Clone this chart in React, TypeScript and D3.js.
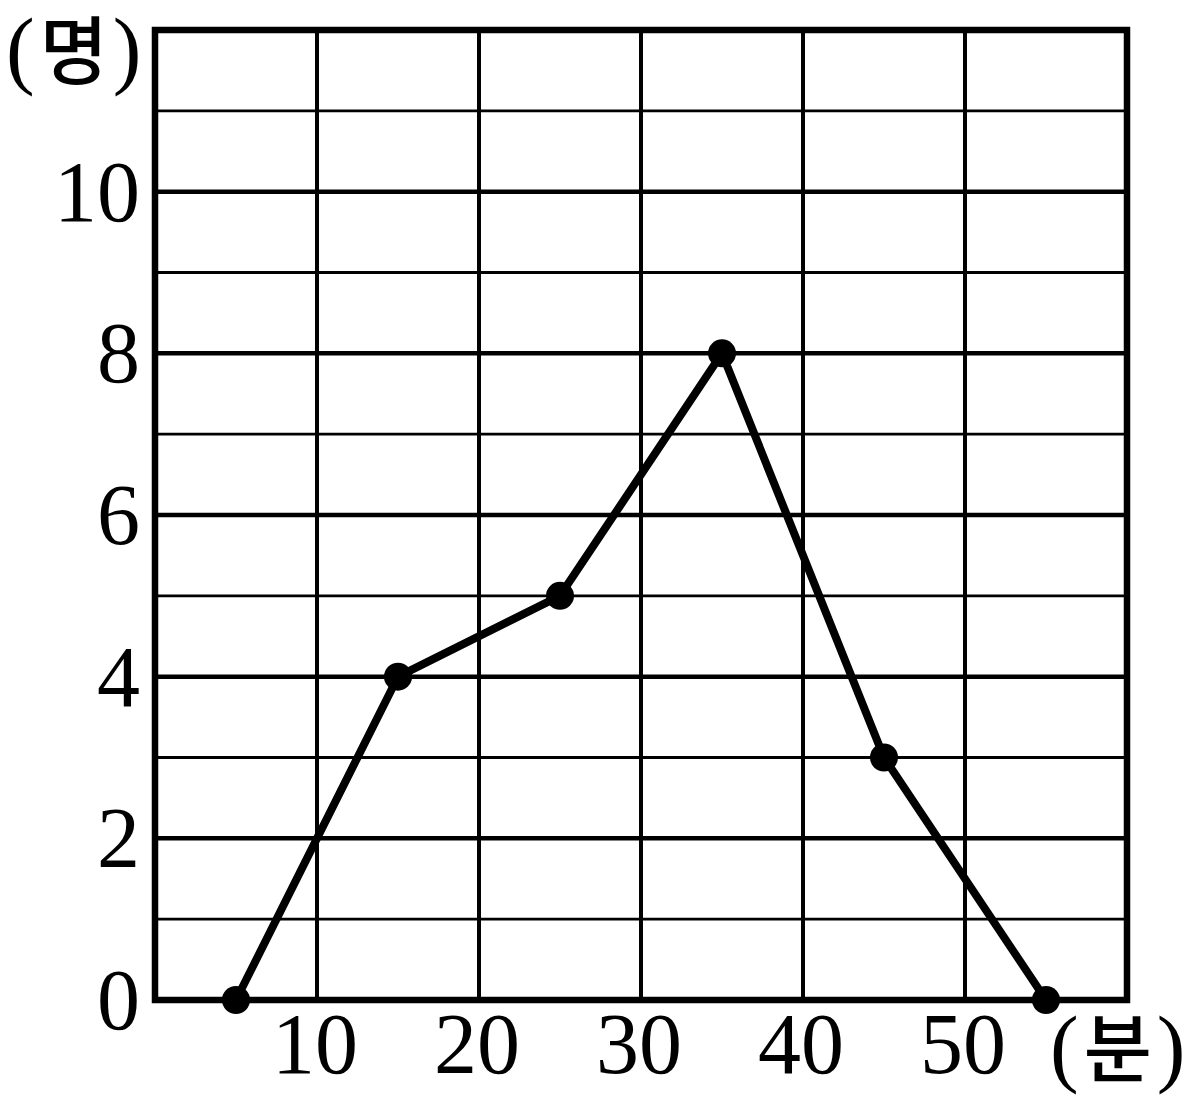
import React, { useEffect, useRef } from 'react';
import * as d3 from 'd3';

// 도수분포다각형: 계급값(분)과 도수(명)
const minutes = [5, 15, 25, 35, 45, 55];
const counts = [0, 4, 5, 8, 3, 0];
const xTicks = [10, 20, 30, 40, 50];
const yTicks = [0, 2, 4, 6, 8, 10];

const W = 1203;
const H = 1104;

const App: React.FC = () => {
  const svgRef = useRef<SVGSVGElement>(null);

  useEffect(() => {
    if (!svgRef.current) return;
    const svg = d3.select(svgRef.current);
    svg.selectAll('*').remove();

    const x = d3.scaleLinear().domain([0, 60]).range([155, 1127]);
    const y = d3.scaleLinear().domain([0, 12]).range([1000, 30]);

    const g = svg.append('g');

    // horizontal grid, every unit
    g.selectAll('.hgrid')
      .data(d3.range(1, 12))
      .enter().append('line')
      .attr('x1', x(0)).attr('x2', x(60))
      .attr('y1', (d) => y(d)).attr('y2', (d) => y(d))
      .attr('stroke', '#000')
      .attr('stroke-width', (d) => (d % 2 === 0 ? 4.5 : 2.8));

    // vertical grid
    g.selectAll('.vgrid')
      .data(d3.range(10, 60, 10))
      .enter().append('line')
      .attr('x1', (d) => x(d)).attr('x2', (d) => x(d))
      .attr('y1', y(0)).attr('y2', y(12))
      .attr('stroke', '#000')
      .attr('stroke-width', 4);

    // frame
    g.append('rect')
      .attr('x', x(0)).attr('y', y(12))
      .attr('width', x(60) - x(0)).attr('height', y(0) - y(12))
      .attr('fill', 'none')
      .attr('stroke', '#000')
      .attr('stroke-width', 6.5);

    const pts = minutes.map((m, i) => [m, counts[i]] as [number, number]);

    g.append('path')
      .datum(pts)
      .attr('fill', 'none')
      .attr('stroke', '#000')
      .attr('stroke-width', 8)
      .attr('stroke-linejoin', 'round')
      .attr('d', d3.line<[number, number]>().x((d) => x(d[0])).y((d) => y(d[1])));

    g.selectAll('.dot')
      .data(pts)
      .enter().append('circle')
      .attr('cx', (d) => x(d[0]))
      .attr('cy', (d) => y(d[1]))
      .attr('r', 14)
      .attr('fill', '#000');

    const serif = '"Liberation Serif", "DejaVu Serif", serif';

    g.selectAll('.ylab')
      .data(yTicks)
      .enter().append('text')
      .attr('x', 140)
      .attr('y', (d) => y(d) + 29)
      .attr('text-anchor', 'end')
      .attr('font-family', serif)
      .attr('font-size', 86)
      .text((d) => d);

    g.selectAll('.xlab')
      .data(xTicks)
      .enter().append('text')
      .attr('x', (d) => x(d) - 2)
      .attr('y', 1073)
      .attr('text-anchor', 'middle')
      .attr('font-family', serif)
      .attr('font-size', 86)
      .text((d) => d);

    const unit = (tx: number, ty: number, label: string) => {
      const t = g.append('text')
        .attr('x', tx).attr('y', ty)
        .attr('font-family', serif)
        .attr('font-size', 86);
      t.append('tspan').text('(');
      t.append('tspan')
        .attr('dx', 5)
        .attr('font-family', '"Noto Sans CJK KR", sans-serif')
        .attr('font-size', 74)
        .attr('font-weight', 500)
        .text(label);
      t.append('tspan').attr('dx', 5).text(')');
    };
    unit(6, 78, '명');
    unit(1050, 1076, '분');
  }, []);

  return (
    <svg
      ref={svgRef}
      width={W}
      height={H}
      viewBox={`0 0 ${W} ${H}`}
      style={{ position: 'absolute', left: 0, top: 0, background: '#fff' }}
    />
  );
};

export default App;
